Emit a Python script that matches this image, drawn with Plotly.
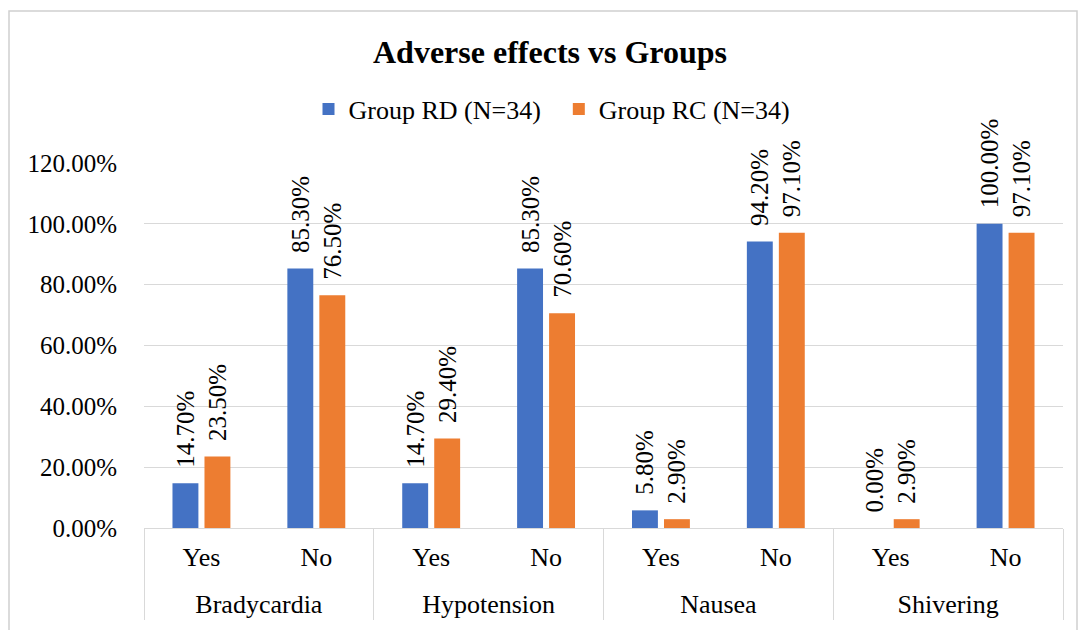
import plotly.graph_objects as go

# Chart data
effects = ["Bradycardia", "Bradycardia", "Hypotension", "Hypotension",
           "Nausea", "Nausea", "Shivering", "Shivering"]
answers = ["Yes", "No", "Yes", "No", "Yes", "No", "Yes", "No"]
group_rd = [14.7, 85.3, 14.7, 85.3, 5.8, 94.2, 0.0, 100.0]
group_rc = [23.5, 76.5, 29.4, 70.6, 2.9, 97.1, 2.9, 97.1]
series_names = ["Group RD (N=34)", "Group RC (N=34)"]
y_ticks = [0, 20, 40, 60, 80, 100, 120]

W, H = 1079, 630
L, R, T, B = 144, 16, 163, 102
PW, PH = W - L - R, H - T - B

FONT = "Liberation Serif"
BLUE = "#4472C4"
ORANGE = "#ED7D31"
GRID = "#d9d9d9"
NBSP = "\u00a0"


def px_x(p):
    return (p - L) / PW


def px_y(p):
    return (H - B - p) / PH


# taller blank padding around the first-level labels deepens that row,
# which pushes the group-name row further down
PAD = "<span style='font-size:46px'>" + NBSP + "</span>"
answer_labels = [PAD + a + PAD for a in answers]

fig = go.Figure()
for name, vals, color in [(series_names[0] + NBSP * 2, group_rd, BLUE),
                          (series_names[1], group_rc, ORANGE)]:
    fig.add_trace(go.Bar(
        x=[effects, answer_labels],
        y=vals,
        name=name,
        marker=dict(color=color, line=dict(width=0)),
        text=[NBSP * 2 + f"{v:.2f}%" for v in vals],
        texttemplate="%{text}",
        textposition="outside",
        textangle=-90,
        constraintext="none",
        textfont=dict(family=FONT, size=25, color="#000000"),
        cliponaxis=False,
    ))

fig.update_layout(
    width=W, height=H,
    margin=dict(l=L, r=R, t=T, b=B, pad=0, autoexpand=False),
    paper_bgcolor="white",
    plot_bgcolor="white",
    font=dict(family=FONT, size=26, color="#000000"),
    barmode="group",
    bargap=0.443,
    bargroupgap=0.19,
    title=dict(
        text="<b>Adverse effects vs Groups</b>",
        x=550 / W, xanchor="center",
        y=1 - 52 / H, yanchor="middle",
        font=dict(family=FONT, size=32, color="#000000"),
    ),
    legend=dict(
        orientation="h",
        x=px_x(552), xanchor="center",
        y=px_y(109), yanchor="middle",
        font=dict(family=FONT, size=26),
        bgcolor="rgba(0,0,0,0)",
    ),
    showlegend=True,
)

fig.update_yaxes(
    range=[0, 120],
    tickvals=y_ticks,
    ticktext=[f"{v:.2f}%" for v in y_ticks],
    showgrid=True, gridcolor=GRID, gridwidth=1,
    zeroline=False,
    showline=False,
    ticks="",
    ticklabelstandoff=26,
    tickfont=dict(family=FONT, size=25),
    automargin=False,
)

fig.update_xaxes(
    type="multicategory",
    showline=True, linecolor=GRID, linewidth=1,
    showdividers=True, dividercolor=GRID, dividerwidth=1,
    ticks="",
    ticklabelstandoff=6,
    tickangle=0,
    tickfont=dict(family=FONT, size=26),
    showgrid=False,
    automargin=False,
)

# Chart frame
fig.add_shape(
    type="rect", xref="paper", yref="paper",
    x0=px_x(9), x1=px_x(1077), y0=px_y(11), y1=px_y(660),
    line=dict(color="#d0d0d0", width=1.5),
    fillcolor="rgba(0,0,0,0)",
    layer="below",
)

fig.write_html("out.html")
